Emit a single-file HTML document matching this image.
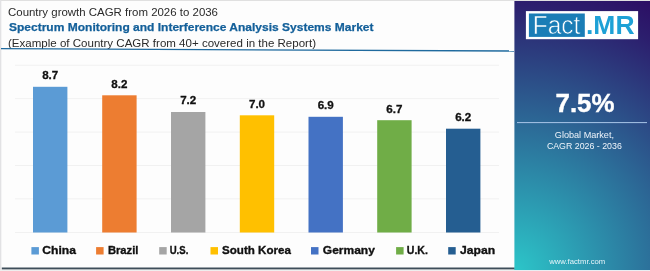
<!DOCTYPE html>
<html><head><meta charset="utf-8">
<style>
html,body{margin:0;padding:0;background:#fff;width:650px;height:271px;overflow:hidden}
svg{display:block;font-family:"Liberation Sans",sans-serif;will-change:transform}
</style></head>
<body>
<svg width="650" height="271" viewBox="0 0 650 271">
<defs>
<radialGradient id="pg" cx="514.4" cy="271" r="302" fx="514.4" fy="271" gradientUnits="userSpaceOnUse">
<stop offset="0" stop-color="rgb(44,198,201)"/>
<stop offset="0.881" stop-color="rgb(44,31,110)"/>
<stop offset="1" stop-color="rgb(44,14,100)"/>
</radialGradient>
</defs>
<rect x="0" y="0" width="650" height="271" fill="#fdfdfd"/>
<rect x="0" y="0" width="650" height="1" fill="#e0e0e0"/>
<rect x="0" y="0" width="1.3" height="271" fill="#e2e2e4"/>
<rect x="1.8" y="267.5" width="513" height="2.1" fill="#3e4e5a"/>
<rect x="0" y="269.6" width="514" height="1.4" fill="#eeeeee"/>
<!-- titles -->
<text x="8" y="15.8" font-size="10.6" fill="#2a2a2a" textLength="210" lengthAdjust="spacingAndGlyphs">Country growth CAGR from 2026 to 2036</text>
<text x="9" y="30.7" font-size="11.6" font-weight="bold" fill="#14609a" stroke="#14609a" stroke-width="0.25" textLength="364.5" lengthAdjust="spacingAndGlyphs">Spectrum Monitoring and Interference Analysis Systems Market</text>
<text x="8" y="47" font-size="10.3" fill="#2a2a2a" textLength="308" lengthAdjust="spacingAndGlyphs">(Example of Country CAGR from 40+ covered in the Report)</text>
<line x1="1" y1="48.6" x2="514" y2="51" stroke="#1f6a9e" stroke-width="1.3"/>
<!-- grid -->
<g fill="#f0f0f0">
<rect x="15" y="64.8" width="484" height="0.9"/>
<rect x="15" y="98.2" width="484" height="0.9"/>
<rect x="15" y="131.6" width="484" height="0.9"/>
<rect x="15" y="165" width="484" height="0.9"/>
<rect x="15" y="198.4" width="484" height="0.9"/>
<rect x="15" y="232" width="484" height="0.9"/>
</g>
<!-- bars -->
<rect x="33" y="86.8" width="34.4" height="145.7" fill="#5b9bd5"/>
<rect x="102.2" y="95.3" width="34.4" height="137.2" fill="#ed7d31"/>
<rect x="171" y="112" width="34.4" height="120.5" fill="#a5a5a5"/>
<rect x="239.8" y="115.3" width="34.4" height="117.2" fill="#ffc000"/>
<rect x="308.5" y="116.8" width="34.4" height="115.7" fill="#4472c4"/>
<rect x="377.2" y="120.2" width="34.4" height="112.3" fill="#70ad47"/>
<rect x="446" y="128.7" width="34.4" height="103.8" fill="#255e91"/>
<!-- labels -->
<g font-size="11.6" font-weight="bold" fill="#111" stroke="#111" stroke-width="0.3" text-anchor="middle">
<text x="50.2" y="79.1">8.7</text>
<text x="119.4" y="87.6">8.2</text>
<text x="188.2" y="104.3">7.2</text>
<text x="257" y="107.6">7.0</text>
<text x="325.7" y="109.1">6.9</text>
<text x="394.4" y="112.5">6.7</text>
<text x="463.2" y="121">6.2</text>
</g>
<!-- legend -->
<g>
<rect x="31.4" y="247.1" width="7.5" height="7.4" fill="#5b9bd5"/>
<rect x="96.1" y="247.1" width="7.5" height="7.4" fill="#ed7d31"/>
<rect x="159.2" y="247.1" width="7.5" height="7.4" fill="#a5a5a5"/>
<rect x="210.5" y="247.1" width="7.5" height="7.4" fill="#ffc000"/>
<rect x="311" y="247.1" width="7.5" height="7.4" fill="#4472c4"/>
<rect x="396.1" y="247.1" width="7.5" height="7.4" fill="#70ad47"/>
<rect x="448.2" y="247.1" width="7.5" height="7.4" fill="#255e91"/>
</g>
<g font-size="11.7" font-weight="bold" fill="#111" stroke="#111" stroke-width="0.35">
<text x="42.3" y="254.2" textLength="33.6" lengthAdjust="spacingAndGlyphs">China</text>
<text x="107.9" y="254.3" textLength="30.5" lengthAdjust="spacingAndGlyphs">Brazil</text>
<text x="169.7" y="254.3" textLength="18.6" lengthAdjust="spacingAndGlyphs">U.S.</text>
<text x="222" y="254.3" textLength="68.9" lengthAdjust="spacingAndGlyphs">South Korea</text>
<text x="322.8" y="254.3" textLength="52" lengthAdjust="spacingAndGlyphs">Germany</text>
<text x="406.8" y="254.3" textLength="21.1" lengthAdjust="spacingAndGlyphs">U.K.</text>
<text x="460" y="254.3" textLength="35.1" lengthAdjust="spacingAndGlyphs">Japan</text>
</g>
<!-- panel -->
<rect x="514.4" y="1" width="135.6" height="269" fill="url(#pg)"/>
<rect x="514" y="270" width="136" height="1" fill="#e9eef2"/>
<rect x="525.9" y="11.1" width="112.2" height="28.1" fill="#fff"/>
<rect x="528.9" y="13.5" width="55.9" height="23.4" fill="#1a7db6"/>
<text x="532.8" y="33.8" font-size="25.6" fill="#fff" stroke="#1a7db6" stroke-width="0.6" textLength="47.5" lengthAdjust="spacingAndGlyphs">Fact</text>
<text x="586" y="33.8" font-size="25.7" font-weight="bold" fill="#1ea1d6" textLength="48.5" lengthAdjust="spacingAndGlyphs">.MR</text>
<text x="585" y="111.6" font-size="26.5" font-weight="bold" fill="#fff" stroke="#fff" stroke-width="0.4" text-anchor="middle" textLength="59" lengthAdjust="spacingAndGlyphs">7.5%</text>
<rect x="517" y="122.1" width="130" height="1" fill="#a9c6e8"/>
<text x="554.8" y="137.8" font-size="9.8" fill="#eef4fb" textLength="59.2" lengthAdjust="spacingAndGlyphs">Global Market,</text>
<text x="546.9" y="149.1" font-size="9.8" fill="#eef4fb" textLength="74.9" lengthAdjust="spacingAndGlyphs">CAGR 2026 - 2036</text>
<text x="549.2" y="263.6" font-size="7.5" fill="#e6f4fa" textLength="56" lengthAdjust="spacingAndGlyphs">www.factmr.com</text>
</svg>
</body></html>
